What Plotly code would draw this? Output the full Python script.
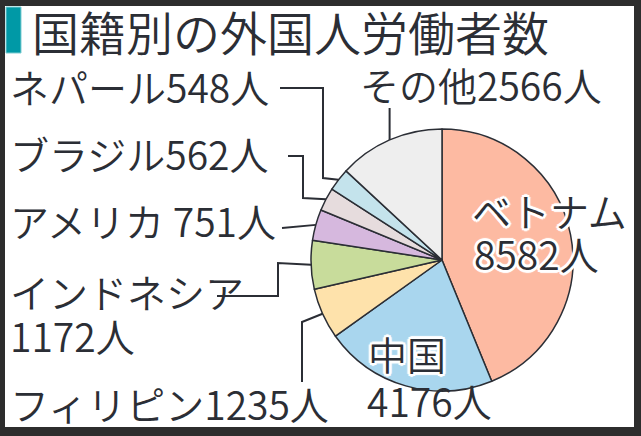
import math
import plotly.graph_objects as go

W, H = 641, 436

# data (people)
countries = ["ベトナム", "中国", "フィリピン", "インドネシア", "アメリカ", "ブラジル", "ネパール", "その他"]
workers = [8582, 4176, 1235, 1172, 751, 562, 548, 2566]
colors = ["#fdbaa2", "#a9d6ee", "#fee2ab", "#c8dc9b", "#d6b8de", "#e6dcdd", "#c4e3ec", "#eeeeee"]
title = "国籍別の外国人労働者数"

ink = "#2b2e35"
jp = "Noto Sans CJK JP"

# pie placement in pixels
cx, cy, r = 442, 260, 131


def px(x, y):
    return x / W, 1 - y / H


def slice_point(i, rr=r):
    # middle of slice i on the rim (clockwise from 12 o'clock)
    total = sum(workers)
    start = sum(workers[:i]) / total * 360
    mid = math.radians(start + workers[i] / total * 180)
    return cx + rr * math.sin(mid), cy - rr * math.cos(mid)


fig = go.Figure(go.Pie(
    labels=countries,
    values=workers,
    sort=False,
    direction="clockwise",
    rotation=0,
    textinfo="none",
    hoverinfo="label+value",
    marker=dict(colors=colors, line=dict(color=ink, width=1.5)),
    domain=dict(x=[(cx - r) / W, (cx + r) / W], y=[1 - (cy + r) / H, 1 - (cy - r) / H]),
    showlegend=False,
))

shapes = []
# white card inside dark frame
x0, y0 = px(5, 6)
x1, y1 = px(634, 427)
shapes.append(dict(type="rect", xref="paper", yref="paper", x0=x0, y0=y1, x1=x1, y1=y0,
                   fillcolor="white", line=dict(width=0), layer="below"))
# teal title bar
x0, y0 = px(6, 7)
x1, y1 = px(21, 53)
shapes.append(dict(type="rect", xref="paper", yref="paper", x0=x0, y0=y1, x1=x1, y1=y0,
                   fillcolor="#0099a6", line=dict(color="#7fcdd3", width=1), layer="below"))

# leader lines: elbow points then the slice rim
idx = {c: i for i, c in enumerate(countries)}
sx, sy = slice_point(idx["その他"])
leaders = {
    "ネパール": [(280, 88), (323, 88), (323, 178)],
    "ブラジル": [(288, 156), (303, 156), (303, 198)],
    "アメリカ": [(282, 228)],
    "インドネシア": [(217, 296), (278, 296), (278, 263)],
    "フィリピン": [(302, 382), (302, 322)],
    "その他": [(sx, 108)],
}
for name, pts in leaders.items():
    pts = pts + [slice_point(idx[name])]
    d = ""
    for k, (x, y) in enumerate(pts):
        fx, fy = px(x, y)
        d += ("M" if k == 0 else " L") + f" {fx:.5f},{fy:.5f}"
    shapes.append(dict(type="path", xref="paper", yref="paper", path=d,
                       line=dict(color=ink, width=2)))

halo = ("2px 0 0 white, -2px 0 0 white, 0 2px 0 white, 0 -2px 0 white, "
        "2px 2px 0 white, -2px -2px 0 white, 2px -2px 0 white, -2px 2px 0 white, "
        "3px 0 1px white, -3px 0 1px white, 0 3px 1px white, 0 -3px 1px white")

annotations = []


def label(text, x, y, size=39, anchor="left", shadow=None):
    fx, fy = px(x, y)
    f = dict(family=jp, size=size, color=ink, weight=350)
    if shadow:
        f["shadow"] = shadow
    annotations.append(dict(text=text, x=fx, y=fy, xref="paper", yref="paper",
                            xanchor=anchor, yanchor="middle", showarrow=False, font=f))


label(title, 30, 30, size=47)
label("ネパール548人", 8, 86)
label("その他2566人", 358, 84)
label("ブラジル562人", 8, 153)
label("アメリカ 751人", 8, 220)
label("インドネシア", 8, 291)
label("1172人", 8, 335)
label("フィリピン1235人", 8, 403)
label("ベトナム", 470, 210, shadow=halo)
label("8582人", 472, 253, shadow=halo)
label("中国", 366, 353, shadow=halo)
label("4176人", 365, 400)

fig.update_layout(
    width=W, height=H,
    margin=dict(t=0, l=0, r=0, b=0),
    paper_bgcolor="#2d2d2d",
    plot_bgcolor="rgba(0,0,0,0)",
    shapes=shapes,
    annotations=annotations,
)

fig.write_html("out.html", config={"displayModeBar": False},
               post_script="document.body.style.margin='0';")
